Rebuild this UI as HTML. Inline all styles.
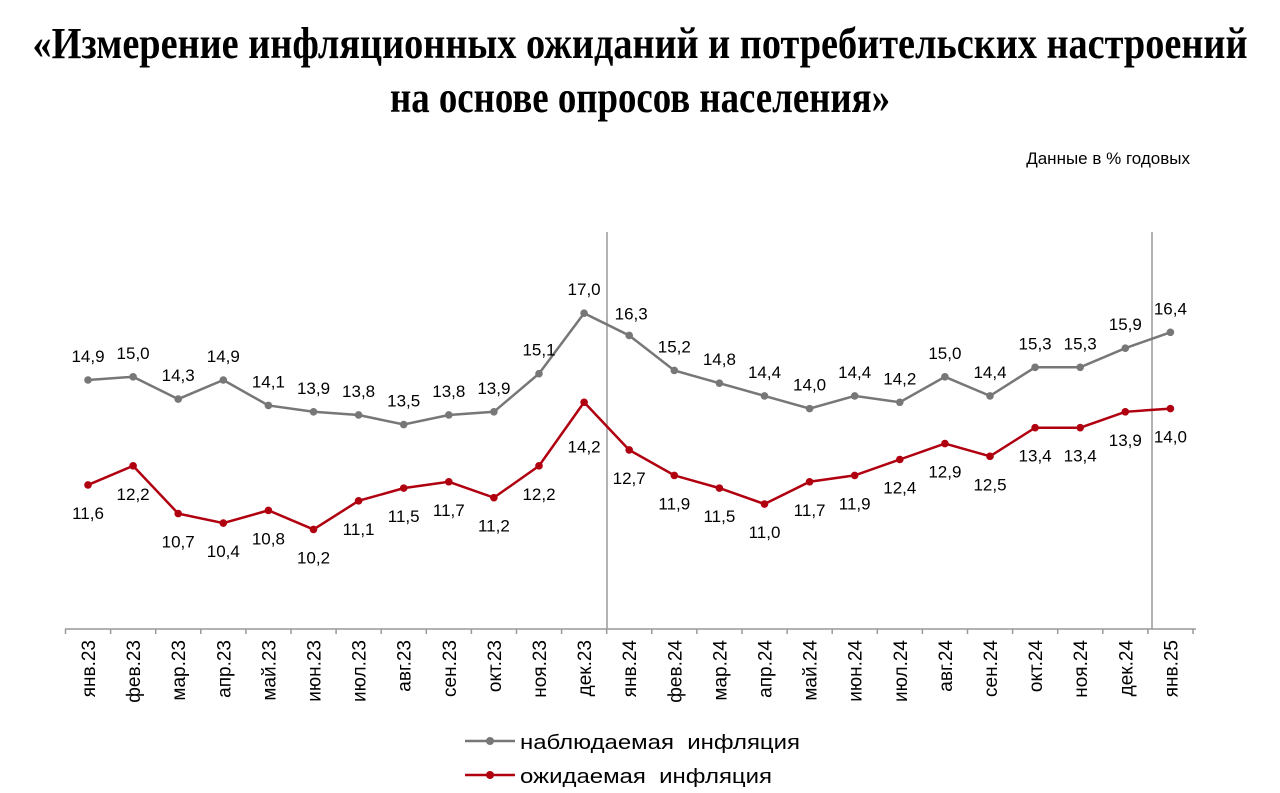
<!DOCTYPE html>
<html><head><meta charset="utf-8"><style>body{margin:0;background:#fff}svg{display:block}</style></head><body>
<svg width="1280" height="793" xmlns="http://www.w3.org/2000/svg" font-family="Liberation Sans, DejaVu Sans, sans-serif">
<text x="640" y="58" text-anchor="middle" font-family="Liberation Serif, serif" font-weight="bold" font-size="44" textLength="1215" lengthAdjust="spacingAndGlyphs">«Измерение инфляционных ожиданий и потребительских настроений</text>
<text x="640" y="112" text-anchor="middle" font-family="Liberation Serif, serif" font-weight="bold" font-size="44" textLength="500" lengthAdjust="spacingAndGlyphs">на основе опросов населения»</text>
<text x="1190" y="164" text-anchor="end" font-size="17">Данные в % годовых</text>
<line x1="607" y1="232" x2="607" y2="629" stroke="#999" stroke-width="1.5"/>
<line x1="1152" y1="232" x2="1152" y2="629" stroke="#999" stroke-width="1.5"/>
<g id="g"></g>
<line x1="465" y1="741" x2="515" y2="741" stroke="#777" stroke-width="2.5"/><circle cx="490" cy="741" r="4" fill="#777"/>
<text x="520" y="749" font-size="20" textLength="280" lengthAdjust="spacingAndGlyphs" xml:space="preserve">наблюдаемая  инфляция</text>
<line x1="465" y1="775" x2="515" y2="775" stroke="#b00010" stroke-width="2.5"/><circle cx="490" cy="775" r="4" fill="#b00010"/>
<text x="520" y="783" font-size="20" textLength="252" lengthAdjust="spacingAndGlyphs" xml:space="preserve">ожидаемая  инфляция</text>
</svg>
<script>
var G=[14.9,15.0,14.3,14.9,14.1,13.9,13.8,13.5,13.8,13.9,15.1,17.0,16.3,15.2,14.8,14.4,14.0,14.4,14.2,15.0,14.4,15.3,15.3,15.9,16.4];
var R=[11.6,12.2,10.7,10.4,10.8,10.2,11.1,11.5,11.7,11.2,12.2,14.2,12.7,11.9,11.5,11.0,11.7,11.9,12.4,12.9,12.5,13.4,13.4,13.9,14.0];
var M=['янв.23','фев.23','мар.23','апр.23','май.23','июн.23','июл.23','авг.23','сен.23','окт.23','ноя.23','дек.23','янв.24','фев.24','мар.24','апр.24','май.24','июн.24','июл.24','авг.24','сен.24','окт.24','ноя.24','дек.24','янв.25'];
function X(i){return 88+i*45.1}function Y(v){return 380-(v-14.9)*31.8}
var s='<line x1="65" y1="629" x2="1196" y2="629" stroke="#999" stroke-width="1.5"/>';
for(var i=0;i<=25;i++){var tx=65.5+i*45.1;s+='<line x1="'+tx+'" y1="629" x2="'+tx+'" y2="634" stroke="#999" stroke-width="1.5"/>';}
for(i=0;i<25;i++){s+='<text transform="translate('+(X(i)+7)+',640) rotate(-90)" text-anchor="end" font-size="19">'+M[i]+'</text>';}
function line(d,c){var p=d.map(function(v,i){return X(i)+','+Y(v)}).join(' ');var r='<polyline points="'+p+'" fill="none" stroke="'+c+'" stroke-width="2.5"/>';d.forEach(function(v,i){r+='<circle cx="'+X(i)+'" cy="'+Y(v)+'" r="3.8" fill="'+c+'"/>'});return r}
s+=line(G,'#777')+line(R,'#b00010');
function f(v){return v.toFixed(1).replace('.',',')}
G.forEach(function(v,i){var x=X(i),y=Y(v)-18;if(i==12){x+=2;y=Y(v)-16}s+='<text x="'+x+'" y="'+y+'" text-anchor="middle" font-size="17">'+f(v)+'</text>'});
R.forEach(function(v,i){var x=X(i),y=Y(v)+34;if(i==11){y=Y(v)+50}s+='<text x="'+x+'" y="'+y+'" text-anchor="middle" font-size="17">'+f(v)+'</text>'});
document.getElementById('g').innerHTML=s;
</script>
</body></html>
